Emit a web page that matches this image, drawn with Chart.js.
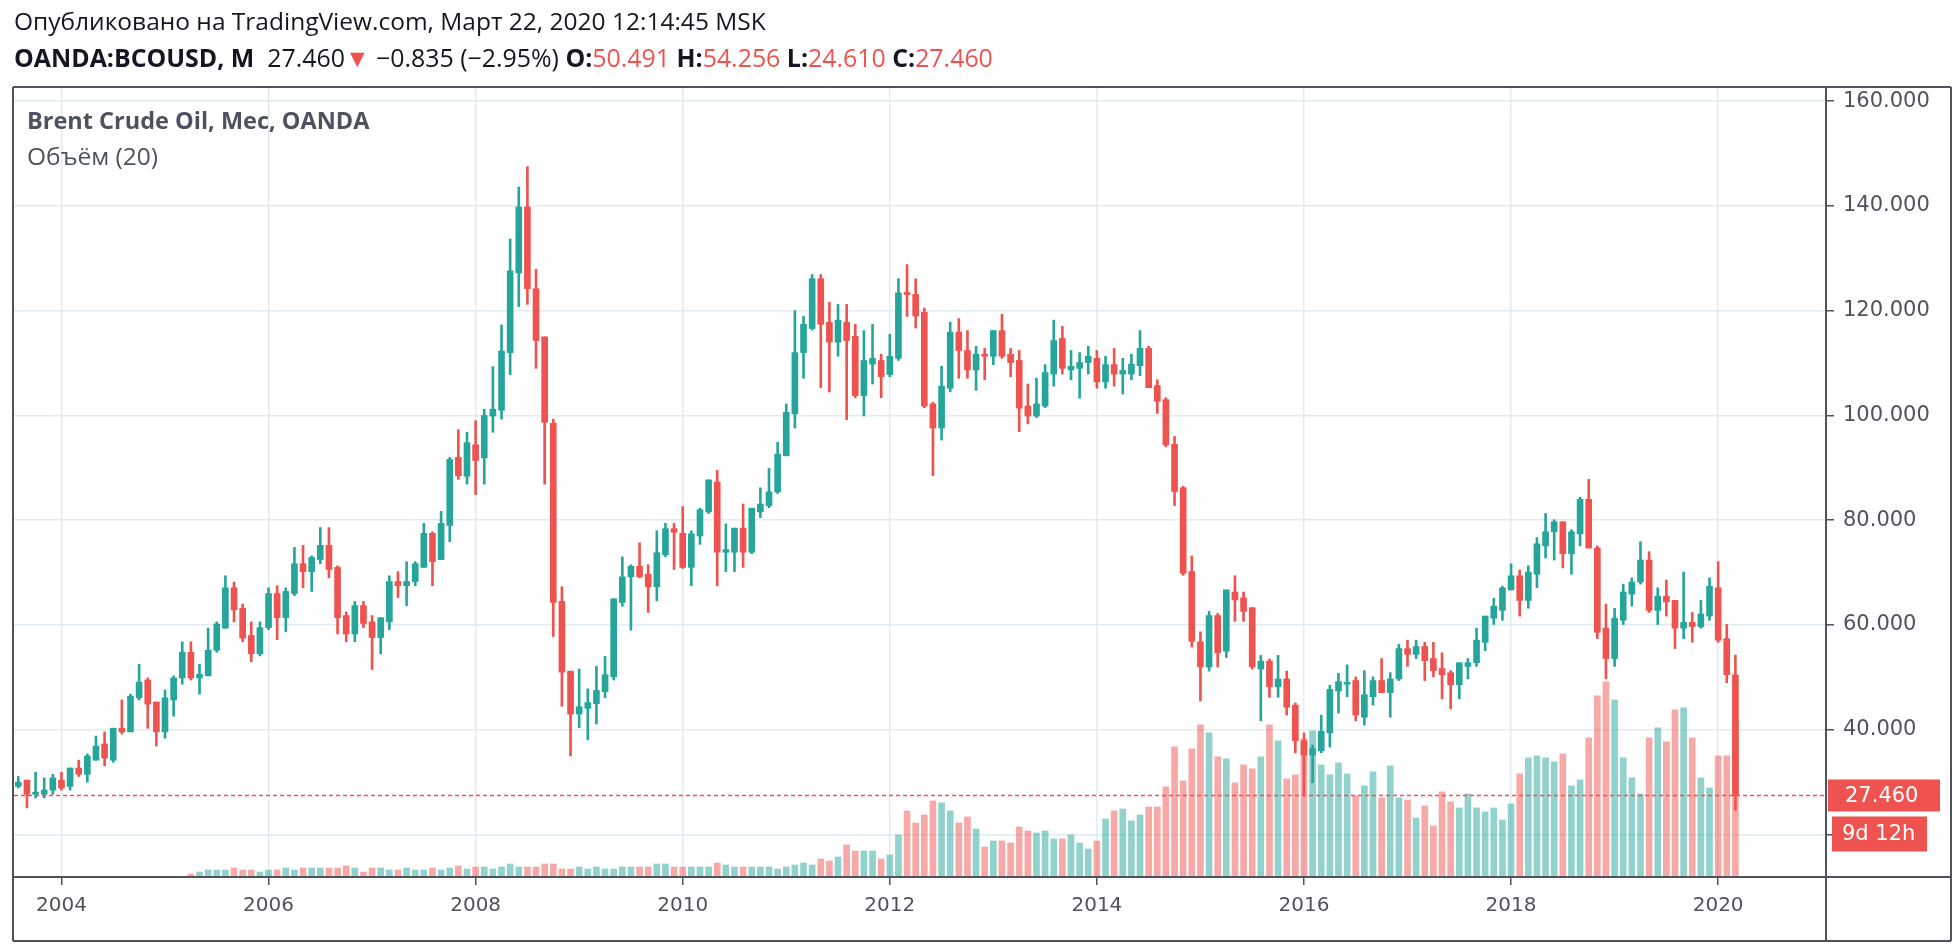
<!DOCTYPE html>
<html>
<head>
<meta charset="utf-8">
<script src="https://cdn.jsdelivr.net/npm/chart.js@4.4.1/dist/chart.umd.min.js"></script>
<style>
  html, body { margin: 0; padding: 0; background: #fff; }
  #wrap { position: relative; width: 1954px; height: 944px; overflow: hidden; }
  #grafico { position: absolute; left: 0; top: 0; }
  .txt { position: absolute; white-space: nowrap; font-family: "Open Sans", sans-serif; }
  #linha1 { left: 14px; top: 4px; font-size: 24.5px; color: #131722; }
  #linha2 { left: 14px; top: 40px; font-size: 24.9px; color: #131722; }
  #linha2 b { font-weight: 700; }
  .verm { color: #ef5350; }
  #leg1 { left: 27px; top: 104px; font-size: 23.5px; font-weight: 700; color: #4c525e; }
  #leg2 { left: 27px; top: 139px; font-size: 24.5px; color: #4c525e; }
</style>
</head>
<body>
<div id="wrap">
  <canvas id="grafico" width="1954" height="944"></canvas>
  <div class="txt" id="linha1">Опубликовано на TradingView.com, Март 22, 2020 12:14:45 MSK</div>
  <div class="txt" id="linha2"><b>OANDA:BCOUSD, M</b>&nbsp; 27.460<span class="verm">▼</span> −0.835 (−2.95%) <b>O:</b><span class="verm">50.491</span> <b>H:</b><span class="verm">54.256</span> <b>L:</b><span class="verm">24.610</span> <b>C:</b><span class="verm">27.460</span></div>
  <div class="txt" id="leg1">Brent Crude Oil, Мес, OANDA</div>
  <div class="txt" id="leg2">Объём (20)</div>
</div>
<script>
// monthly candles, Aug 2003 .. Mar 2020
const primeiroMes = [2003, 8];
const mesesVazios = 10; // empty space to the right of the last candle

const abertura = [
  29.2, 30.4, 27.7, 27.7, 28.5,
  30.4, 29.2, 32.7, 31.5, 34.2, 37.3, 34.2, 40.3, 39.6, 46.1, 49.5, 45.3,
  39.6, 45.7, 49.9, 54.8, 49.9, 50.3, 55.2, 59.4, 67.1, 63.2, 58.0, 54.5,
  59.5, 66.0, 61.4, 66.0, 71.7, 70.2, 72.5, 75.2, 71.0, 61.8, 58.3, 63.7,
  60.6, 57.6, 60.6, 68.3, 67.5, 68.3, 71.0, 77.5, 72.5, 79.0, 92.0, 88.4,
  94.4, 91.9, 99.9, 101.0, 112.0, 127.2, 139.8, 124.2, 115.0, 98.5, 64.5, 51.2,
  43.0, 44.1, 45.0, 47.3, 50.1, 64.3, 69.2, 71.2, 69.7, 67.3, 73.4, 78.4,
  77.5, 71.0, 77.0, 81.6, 87.3, 73.9, 73.9, 78.5, 73.9, 81.6, 82.8, 85.4,
  92.3, 100.3, 112.0, 116.6, 126.1, 117.8, 114.0, 117.8, 115.1, 103.8, 109.8, 110.5,
  107.8, 110.9, 123.4, 123.1, 119.7, 102.2, 97.6, 105.2, 115.9, 112.4, 108.7, 111.7,
  111.3, 116.2, 111.7, 110.5, 101.8, 99.9, 101.8, 107.9, 114.7, 108.7, 109.0, 110.1,
  110.9, 106.4, 109.7, 107.9, 107.9, 109.5, 112.8, 105.7, 103.0, 94.5, 86.2, 70.2,
  56.8, 52.0, 61.8, 55.0, 66.3, 65.2, 63.3, 51.6, 53.1, 48.2, 49.7, 44.7,
  37.9, 35.2, 36.0, 39.4, 47.4, 48.7, 49.4, 42.4, 46.3, 49.4, 47.1, 49.7,
  55.5, 54.4, 55.9, 53.6, 51.7, 50.9, 48.6, 52.1, 52.8, 56.7, 61.3, 62.8,
  66.7, 69.4, 64.7, 69.7, 75.1, 77.8, 79.7, 73.6, 77.4, 84.0, 74.7, 59.4,
  53.6, 60.9, 65.9, 68.2, 72.4, 62.8, 65.5, 64.7, 59.4, 60.5, 59.7, 61.7,
  67.1, 57.4, 50.491
];
const maxima = [
  31.1, 30.4, 31.9, 30.8, 31.5,
  31.9, 32.7, 34.2, 35.4, 38.8, 39.6, 40.3, 45.7, 46.8, 52.5, 49.9, 45.3,
  47.6, 50.3, 56.8, 56.8, 52.5, 59.4, 60.6, 69.4, 68.2, 64.0, 60.6, 60.6,
  67.1, 67.5, 67.1, 74.8, 75.2, 73.2, 78.6, 78.6, 71.3, 62.5, 64.5, 64.5,
  61.8, 61.4, 69.4, 70.2, 72.1, 72.1, 79.4, 77.8, 81.7, 92.0, 97.3, 96.8,
  99.0, 101.2, 109.3, 117.3, 133.7, 143.6, 147.5, 127.9, 115.0, 99.3, 67.3, 51.2,
  51.6, 47.8, 52.1, 54.0, 65.0, 73.0, 71.5, 75.7, 71.5, 78.0, 79.4, 79.4,
  82.6, 78.0, 82.3, 87.7, 89.5, 79.3, 78.5, 83.1, 82.3, 86.2, 89.9, 94.9,
  102.2, 120.0, 118.9, 126.9, 126.9, 121.6, 121.2, 121.2, 117.4, 116.2, 117.4, 111.7,
  115.5, 126.1, 128.8, 126.1, 120.5, 102.5, 109.4, 117.8, 118.5, 116.2, 113.2, 112.8,
  116.2, 119.3, 112.8, 112.4, 106.0, 107.1, 109.7, 118.2, 117.0, 112.4, 112.0, 113.2,
  112.4, 111.3, 112.8, 110.9, 111.7, 116.2, 113.2, 106.8, 103.4, 96.0, 86.5, 73.2,
  58.7, 62.6, 62.2, 66.7, 69.4, 66.3, 63.3, 54.2, 53.5, 54.2, 51.2, 45.1,
  39.4, 37.1, 42.8, 48.5, 50.8, 52.4, 50.1, 51.3, 50.1, 53.6, 50.9, 56.3,
  57.1, 57.1, 56.7, 56.7, 54.7, 51.3, 52.8, 53.6, 59.4, 61.7, 65.1, 67.4,
  71.7, 70.5, 71.3, 76.7, 81.3, 80.1, 79.7, 78.2, 84.4, 87.8, 75.1, 64.0,
  63.2, 67.8, 69.0, 75.9, 74.0, 67.1, 68.6, 64.7, 70.1, 62.4, 64.7, 69.0,
  72.1, 60.1, 54.256
];
const minimas = [
  28.9, 25.1, 27.0, 27.0, 27.7,
  28.5, 28.5, 31.1, 30.0, 34.2, 33.1, 33.8, 39.2, 39.6, 45.7, 40.3, 36.9,
  38.4, 42.6, 48.7, 49.5, 46.8, 50.3, 54.8, 59.4, 60.6, 56.8, 53.0, 54.1,
  59.1, 57.2, 58.7, 65.6, 67.1, 66.4, 71.7, 69.0, 58.3, 56.8, 56.8, 59.5,
  51.5, 54.5, 59.1, 65.2, 63.7, 67.5, 71.0, 67.5, 72.5, 75.9, 87.8, 86.9,
  84.9, 86.9, 96.8, 99.3, 107.8, 120.8, 121.2, 109.0, 86.9, 57.8, 44.5, 35.0,
  40.4, 38.1, 41.1, 46.1, 49.5, 63.6, 59.0, 69.0, 62.4, 64.6, 73.0, 70.6,
  70.8, 67.5, 75.4, 81.3, 67.5, 70.2, 70.2, 71.0, 73.6, 80.5, 82.4, 85.1,
  92.3, 97.6, 107.1, 116.3, 105.3, 104.5, 111.3, 99.2, 103.4, 99.9, 106.0, 103.4,
  107.4, 110.5, 118.9, 116.7, 101.5, 88.5, 95.3, 104.5, 107.1, 107.1, 104.8, 106.8,
  109.7, 110.9, 107.4, 96.9, 98.4, 99.6, 101.5, 105.6, 107.9, 106.8, 103.3, 107.9,
  105.2, 105.2, 105.6, 104.1, 106.8, 107.6, 105.3, 100.4, 94.0, 82.8, 69.5, 55.8,
  45.5, 51.2, 52.0, 53.8, 60.7, 60.7, 51.6, 41.7, 46.2, 46.2, 42.8, 35.6,
  27.6, 29.9, 35.6, 36.7, 43.2, 46.3, 41.7, 40.9, 44.7, 47.1, 42.4, 49.4,
  52.1, 53.6, 49.4, 50.1, 45.9, 44.0, 45.9, 49.7, 52.1, 55.1, 60.1, 60.9,
  66.7, 61.7, 63.2, 67.1, 72.8, 72.4, 70.9, 69.7, 75.1, 74.7, 57.4, 49.7,
  52.1, 60.1, 63.6, 67.8, 62.4, 60.1, 61.7, 55.5, 57.4, 56.7, 59.4, 60.9,
  56.7, 49.0, 24.61
];
const fechamento = [
  30.0, 27.7, 28.1, 28.5, 30.8,
  28.9, 32.7, 31.5, 35.0, 36.9, 34.6, 40.3, 39.6, 46.4, 49.1, 44.9, 39.6,
  46.1, 49.9, 54.8, 49.9, 50.6, 55.2, 60.2, 67.1, 62.9, 57.5, 54.5, 59.5,
  66.0, 61.4, 66.4, 71.7, 70.2, 72.9, 75.2, 70.6, 61.4, 58.3, 63.7, 60.3,
  57.6, 61.4, 68.3, 67.5, 68.3, 71.7, 77.5, 72.1, 79.4, 91.6, 88.5, 94.8,
  91.4, 100.0, 101.2, 112.3, 127.6, 139.8, 124.2, 114.3, 98.7, 64.3, 51.0, 43.0,
  44.4, 45.2, 47.5, 50.5, 65.0, 69.2, 71.2, 69.2, 67.3, 73.8, 78.4, 77.7,
  71.0, 77.4, 82.0, 87.7, 73.9, 74.4, 78.5, 73.9, 82.3, 83.1, 85.4, 92.6,
  100.6, 112.0, 117.4, 126.1, 117.4, 114.0, 118.2, 114.3, 103.8, 110.5, 110.9, 107.4,
  111.3, 123.4, 123.1, 119.0, 101.8, 97.6, 105.6, 115.9, 112.4, 108.7, 111.7, 111.3,
  116.2, 111.3, 110.1, 101.4, 99.9, 102.2, 108.2, 114.3, 109.0, 109.4, 110.1, 111.3,
  106.4, 109.7, 107.9, 108.6, 109.8, 112.8, 105.3, 102.7, 94.4, 85.5, 69.9, 56.9,
  52.0, 61.8, 54.7, 66.7, 64.8, 62.6, 52.0, 53.1, 48.2, 49.7, 44.3, 37.9,
  35.2, 36.4, 39.7, 47.7, 49.2, 49.0, 42.8, 46.7, 49.4, 47.1, 49.7, 55.5,
  54.4, 55.9, 53.2, 51.3, 50.5, 48.6, 52.8, 52.8, 57.1, 61.7, 63.6, 67.1,
  69.4, 64.7, 70.1, 75.5, 77.8, 79.7, 73.6, 77.8, 84.0, 74.7, 58.6, 53.6,
  61.3, 66.3, 68.2, 72.4, 62.8, 65.5, 64.4, 59.4, 60.5, 59.7, 62.1, 67.4,
  57.1, 50.5, 27.46
];
// tick volume, arbitrary units (none before Apr 2005)
const volume = [
  null, null, null, null, null,
  null, null, null, null, null, null, null, null, null, null, null, null,
  null, null, null, 3, 5, 7, 7, 7, 9, 7, 7, 5,
  7, 7, 9, 7, 9, 9, 9, 9, 9, 11, 9, 5,
  9, 9, 7, 7, 9, 7, 7, 9, 7, 9, 11, 8,
  10, 10, 8, 10, 13, 10, 10, 10, 13, 13, 8, 8,
  10, 8, 10, 8, 8, 10, 10, 10, 10, 13, 13, 10,
  10, 10, 10, 10, 14, 12, 10, 10, 10, 10, 10, 8,
  10, 12, 14, 12, 18, 16, 20, 32, 26, 26, 26, 18,
  22, 42, 66, 54, 62, 76, 74, 66, 54, 60, 48, 30,
  36, 36, 34, 50, 46, 44, 46, 38, 38, 42, 34, 28,
  36, 58, 66, 68, 56, 62, 70, 70, 90, 130, 96, 128,
  152, 144, 120, 118, 94, 112, 108, 120, 152, 136, 98, 102,
  138, 146, 112, 102, 114, 103, 81, 91, 105, 79, 111, 79,
  77, 59, 71, 51, 85, 75, 69, 83, 69, 65, 69, 57,
  73, 103, 119, 121, 119, 115, 123, 91, 97, 139, 181, 195,
  177, 119, 99, 83, 139, 149, 135, 167, 169, 139, 99, 89,
  121, 121, 155
];
const precoTicks = [20, 40, 60, 80, 100, 120, 140, 160];
const ultimoPreco = 27.460;
const tempoRestante = '9d 12h';

const corAlta = '#26a69a';
const corBaixa = '#ef5350';
const corVolAlta = 'rgba(38,166,154,0.5)';
const corVolBaixa = 'rgba(239,83,80,0.5)';
const corEixo = '#50535e';
const corGrade = '#e1ecf2';
const fonteEixo = 'DejaVu Sans';

const meses = [];
for (let i = 0; i < abertura.length + mesesVazios; i++) {
  let m = primeiroMes[1] - 1 + i;
  let ano = primeiroMes[0] + Math.floor(m / 12);
  meses.push(ano + '-' + String(m % 12 + 1).padStart(2, '0'));
}
function rotuloAno(i) {
  let [ano, mes] = meses[i].split('-');
  return (mes === '01' && Number(ano) % 2 === 0) ? ano : null;
}

const sobe = abertura.map((o, i) => fechamento[i] >= o);
const corpos = abertura.map((o, i) => [Math.min(o, fechamento[i]), Math.max(o, fechamento[i])]);
const pavios = minimas.map((l, i) => [l, maxima[i]]);

const molduraPlugin = {
  id: 'moldura',
  afterDatasetsDraw(chart) {
    const { ctx, chartArea: a, scales: { y } } = chart;
    const py = y.getPixelForValue(ultimoPreco);
    ctx.save();
    ctx.strokeStyle = corBaixa;
    ctx.lineWidth = 1.5;
    ctx.setLineDash([4, 3]);
    ctx.beginPath();
    ctx.moveTo(a.left, py);
    ctx.lineTo(a.right, py);
    ctx.stroke();
    ctx.restore();
  },
  afterDraw(chart) {
    const { ctx, chartArea: a, scales: { y } } = chart;
    const W = chart.width, H = chart.height;
    ctx.save();
    ctx.strokeStyle = corEixo;
    ctx.lineWidth = 2;
    ctx.beginPath();
    ctx.moveTo(a.left - 1, a.top); ctx.lineTo(W - 3, a.top);
    ctx.moveTo(a.left - 1, a.top); ctx.lineTo(a.left - 1, H - 3);
    ctx.moveTo(a.left - 1, a.bottom); ctx.lineTo(W - 3, a.bottom);
    ctx.moveTo(a.right, a.top); ctx.lineTo(a.right, H - 3);
    ctx.moveTo(W - 3, a.top); ctx.lineTo(W - 3, H - 3);
    ctx.moveTo(a.left - 1, H - 3); ctx.lineTo(W - 3, H - 3);
    ctx.stroke();

    // last price label and countdown
    const py = y.getPixelForValue(ultimoPreco);
    ctx.fillStyle = corBaixa;
    ctx.fillRect(a.right + 2, py - 16, W - 16 - a.right, 32);
    ctx.fillRect(a.right + 6, py + 21, W - 27 - a.right - 6, 35);
    ctx.fillStyle = '#fff';
    ctx.font = '21px ' + fonteEixo;
    ctx.textBaseline = 'middle';
    ctx.fillText(ultimoPreco.toFixed(3), a.right + 19, py + 1);
    ctx.fillText(tempoRestante, a.right + 16, py + 39);
    ctx.restore();
  }
};

const grafico = new Chart(document.getElementById('grafico'), {
  type: 'bar',
  data: {
    labels: meses,
    datasets: [
      {
        label: 'Объём',
        data: volume,
        yAxisID: 'yv',
        grouped: false,
        order: 3,
        barThickness: 6,
        backgroundColor: sobe.map(s => s ? corVolAlta : corVolBaixa)
      },
      {
        label: 'pavio',
        data: pavios,
        yAxisID: 'y',
        grouped: false,
        order: 2,
        barThickness: 2,
        backgroundColor: sobe.map(s => s ? corAlta : corBaixa)
      },
      {
        label: 'corpo',
        data: corpos,
        yAxisID: 'y',
        grouped: false,
        order: 1,
        barThickness: 6,
        minBarLength: 2,
        backgroundColor: sobe.map(s => s ? corAlta : corBaixa)
      }
    ]
  },
  options: {
    responsive: false,
    animation: false,
    devicePixelRatio: 1,
    layout: { padding: { left: 14, top: 87, right: 3, bottom: 3 } },
    plugins: { legend: { display: false }, tooltip: { enabled: false } },
    scales: {
      x: {
        offset: true,
        border: { display: false },
        grid: {
          offset: false,
          color: corGrade,
          lineWidth: 1.5,
          tickColor: corEixo,
          tickLength: 8,
          tickWidth: 1.5
        },
        ticks: {
          autoSkip: false,
          maxRotation: 0,
          padding: 9,
          color: corEixo,
          font: { family: fonteEixo, size: 20 },
          callback: (v, i) => rotuloAno(i)
        },
        afterFit: s => { s.height = 64; }
      },
      y: {
        position: 'right',
        min: 11.9,
        max: 162.7,
        border: { display: false },
        afterBuildTicks: s => { s.ticks = precoTicks.map(v => ({ value: v })); },
        grid: {
          color: corGrade,
          lineWidth: 1.5,
          tickColor: corEixo,
          tickLength: 8,
          tickWidth: 1.5
        },
        ticks: {
          padding: 9,
          color: corEixo,
          font: { family: fonteEixo, size: 21 },
          callback: v => v === 20 ? '' : v.toFixed(3)
        },
        afterFit: s => { s.width = 125; }
      },
      yv: {
        display: false,
        min: 0,
        max: 789
      }
    }
  },
  plugins: [molduraPlugin]
});
</script>
</body>
</html>
